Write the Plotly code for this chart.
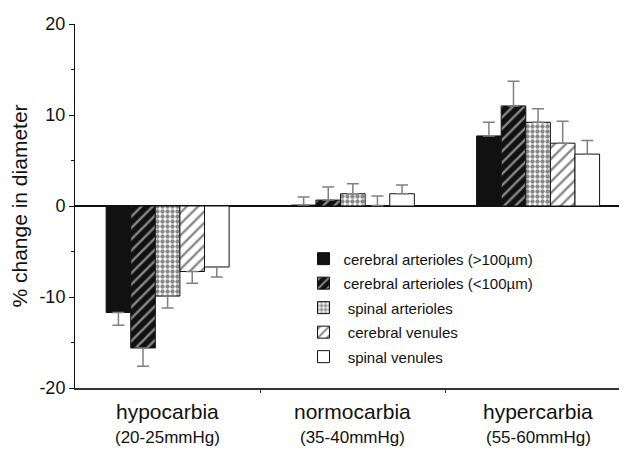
import plotly.graph_objects as go

# ---- data ----
categories = ["hypocarbia", "normocarbia", "hypercarbia"]
sublabels = ["(20-25mmHg)", "(35-40mmHg)", "(55-60mmHg)"]
series_names = [
    "cerebral arterioles (>100µm)",
    "cerebral arterioles (<100µm)",
    " spinal arterioles",
    " cerebral venules",
    " spinal venules",
]
ca_large = [-11.7, 0.1, 7.7]
ca_large_err = [1.4, 0.9, 1.5]
ca_small = [-15.6, 0.65, 11.0]
ca_small_err = [2.0, 1.45, 2.7]
sp_art = [-9.9, 1.35, 9.2]
sp_art_err = [1.3, 1.1, 1.5]
cer_ven = [-7.2, 0.05, 6.9]
cer_ven_err = [1.3, 1.05, 2.4]
sp_ven = [-6.7, 1.35, 5.7]
sp_ven_err = [1.1, 0.95, 1.5]

y_tick_vals = [-20, -10, 0, 10, 20]
y_tick_text = ["-20", "-10", "0", "10", "20"]

values = [ca_large, ca_small, sp_art, cer_ven, sp_ven]
errors = [ca_large_err, ca_small_err, sp_art_err, cer_ven_err, sp_ven_err]

# ---- styles ----
patterns = [
    dict(shape="", bgcolor="#111111"),
    dict(shape="/", bgcolor="#111111", fgcolor="white", size=8, solidity=0.3),
    dict(shape=".", bgcolor="white", fgcolor="#111111", size=5, solidity=0.6),
    dict(shape="/", bgcolor="white", fgcolor="#111111", size=8, solidity=0.3),
    dict(shape="", bgcolor="white"),
]
fills = ["#111111", "#111111", "white", "white", "white"]

xpos = list(range(len(categories)))

fig = go.Figure()
for i, (name, vals, errs) in enumerate(zip(series_names, values, errors)):
    up = [e if v >= 0 else 0 for v, e in zip(vals, errs)]
    down = [e if v < 0 else 0 for v, e in zip(vals, errs)]
    fig.add_trace(go.Bar(
        x=xpos, y=vals, name=name, legendgroup=f"g{i}",
        marker=dict(color=fills[i], pattern=patterns[i],
                    line=dict(color="#111111", width=1)),
        error_y=dict(type="data", symmetric=False, array=up, arrayminus=down,
                     color="#808080", thickness=1.5, width=6),
    ))

annotations = []
for i, (c, s) in enumerate(zip(categories, sublabels)):
    annotations.append(dict(x=xpos[i], y=0, xref="x", yref="paper", text=c,
                            showarrow=False, yanchor="top", yshift=-10,
                            font=dict(size=21, color="#111111")))
    annotations.append(dict(x=xpos[i], y=0, xref="x", yref="paper", text=s,
                            showarrow=False, yanchor="top", yshift=-38,
                            font=dict(size=17, color="#111111")))

# page body has an 8px default margin, so the figure is sized to fit
fig.update_layout(
    width=619, height=444,
    margin=dict(l=67, r=0, t=16, b=64),
    paper_bgcolor="white", plot_bgcolor="white",
    font=dict(family="Liberation Sans, Arial, sans-serif", color="#111111"),
    barmode="group", bargap=0.336, bargroupgap=0,
    showlegend=True,
    legend=dict(x=0.414, y=0.40, xanchor="left", yanchor="top",
                bgcolor="rgba(0,0,0,0)", font=dict(size=15),
                tracegroupgap=2),
    annotations=annotations,
    xaxis=dict(range=[-0.5, 2.48], showgrid=False, zeroline=False,
               showline=True, linecolor="#333333", linewidth=2,
               tickvals=[0.5, 1.5], ticks="outside", ticklen=3,
               tickcolor="#333333", showticklabels=False),
    yaxis=dict(range=[-20, 20], tickvals=y_tick_vals, ticktext=y_tick_text,
               showgrid=False, showline=True, linecolor="#111111",
               linewidth=1, ticks="outside", ticklen=5,
               tickcolor="#111111", tickfont=dict(size=18),
               minor=dict(dtick=5, ticks="outside", ticklen=3,
                          tickcolor="#111111"),
               zeroline=True, zerolinecolor="#111111", zerolinewidth=2,
               title=dict(text="% change in diameter", font=dict(size=21),
                          standoff=6)),
)

fig.write_html("out.html")
